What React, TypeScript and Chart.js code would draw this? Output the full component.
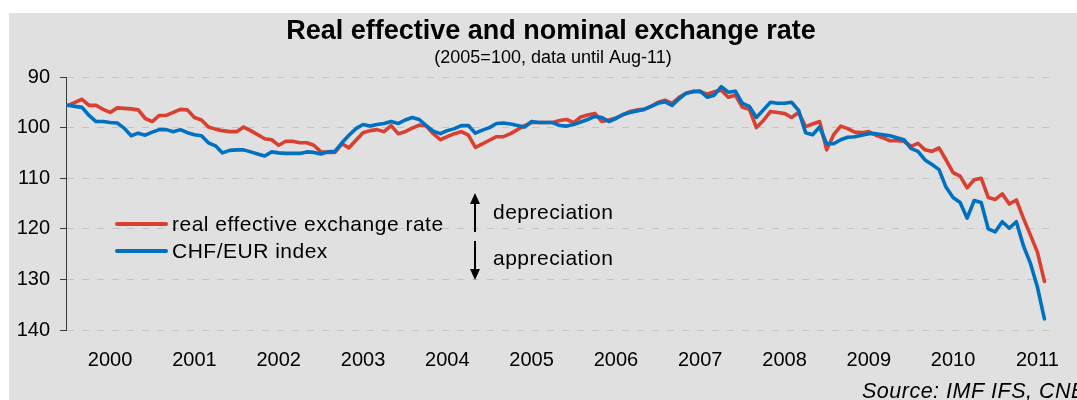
import { useEffect, useRef } from "react";
import { Chart, registerables } from "chart.js";

Chart.register(...registerables);

const FONT = "'Liberation Sans', Arial, Helvetica, sans-serif";

const TITLE = "Real effective and nominal exchange rate";
const SUBTITLE = "(2005=100, data until Aug-11)";
const SOURCE = "Source: IMF IFS, CNB";
const ARROW_UP_TEXT = "depreciation";
const ARROW_DOWN_TEXT = "appreciation";

const seriesNames = ["real effective exchange rate", "CHF/EUR index"];
const seriesColors = ["#d9402f", "#0070c0"];

// x tick labels: one per year, placed at the July observation of each year
const yearLabels = ["2000", "2001", "2002", "2003", "2004", "2005", "2006", "2007", "2008", "2009", "2010", "2011"];
const yearTickMonths = [6, 18, 30, 42, 54, 66, 78, 90, 102, 114, 126, 138];

// monthly observations Jan-2000 .. Aug-2011 (index 2005 = 100)
const realEffective = [
  95.6, 95.0, 94.4, 95.6, 95.6, 96.4, 97.0, 96.1, 96.2, 96.3, 96.5, 98.2,
  98.8, 97.6, 97.6, 97.0, 96.4, 96.5, 98.0, 98.5, 99.9, 100.3, 100.6, 100.8,
  100.8, 99.9, 100.6, 101.4, 102.2, 102.4, 103.5, 102.7, 102.7, 103.0, 103.0, 103.5,
  104.8, 104.9, 104.9, 103.2, 104.0, 102.5, 101.0, 100.6, 100.4, 100.8, 99.6, 101.2,
  100.8, 100.1, 99.5, 99.7, 101.2, 102.4, 101.8, 101.2, 100.8, 101.5, 103.9, 103.2,
  102.5, 101.8, 101.8, 101.2, 100.4, 99.6, 99.0, 99.0, 99.0, 99.0, 98.6, 98.4,
  99.0, 97.9, 97.5, 97.2, 98.8, 98.5, 98.1, 97.5, 96.8, 96.5, 96.4, 95.8,
  95.0, 94.6, 95.2, 94.0, 93.2, 92.8, 92.9, 93.4, 92.9, 92.6, 94.0, 93.6,
  96.0, 96.4, 100.0, 98.6, 96.8, 97.0, 97.2, 98.0, 97.0, 99.8, 99.3, 98.8,
  104.4, 101.4, 99.7, 100.2, 100.9, 101.0, 100.8, 101.5, 102.0, 102.6, 102.6, 102.7,
  103.7, 103.1, 104.4, 104.7, 104.0, 106.4, 108.9, 109.6, 111.9, 110.3, 110.0, 113.8,
  114.2, 113.1, 115.1, 114.3, 117.9, 121.2, 124.6, 130.4,
];

const chfEurIndex = [
  95.6, 95.8, 96.0, 97.6, 98.8, 98.8, 99.0, 99.1, 100.1, 101.6, 101.1, 101.5,
  100.9, 100.4, 100.4, 100.8, 100.4, 101.0, 101.4, 101.6, 103.0, 103.6, 105.0, 104.5,
  104.4, 104.4, 104.8, 105.2, 105.6, 104.8, 105.0, 105.1, 105.1, 105.1, 104.8, 104.9,
  105.2, 104.8, 104.7, 103.0, 101.5, 100.2, 99.4, 99.7, 99.4, 99.2, 98.8, 99.2,
  98.5, 98.0, 98.4, 99.6, 100.7, 101.2, 100.6, 100.2, 99.6, 99.6, 101.1, 100.5,
  100.0, 99.2, 99.1, 99.3, 99.6, 99.9, 98.8, 99.0, 99.0, 99.0, 99.6, 99.7,
  99.4, 98.9, 98.4, 97.8, 98.0, 98.8, 98.2, 97.4, 97.0, 96.7, 96.4, 95.8,
  95.2, 94.9, 95.6, 94.3, 93.2, 92.9, 92.8, 94.0, 93.6, 91.9, 93.0, 92.8,
  95.2, 95.8, 98.0, 96.5, 95.0, 95.2, 95.2, 95.0, 96.6, 101.0, 101.4, 99.9,
  103.2, 103.2, 102.4, 101.9, 101.8, 101.5, 101.2, 101.2, 101.4, 101.6, 102.0, 102.4,
  104.1, 104.7, 106.4, 107.3, 108.3, 111.8, 113.8, 114.8, 117.9, 114.4, 114.8, 120.0,
  120.6, 118.6, 119.9, 118.6, 123.3, 126.8, 131.5, 137.8,
];

const toPoints = (values: number[]) => values.map((v, i) => ({ x: i, y: v }));

const decorPlugin = {
  id: "decor",
  beforeDraw(chart: any) {
    const { ctx, width, height } = chart;
    ctx.save();
    ctx.fillStyle = "#e0e0e0";
    ctx.fillRect(0, 0, width, height);
    ctx.restore();
  },
  afterDraw(chart: any) {
    const ctx = chart.ctx as CanvasRenderingContext2D & { letterSpacing?: string };
    ctx.save();
    ctx.fillStyle = "#000";
    ctx.textAlign = "center";
    ctx.textBaseline = "alphabetic";
    ctx.font = `bold 27px ${FONT}`;
    ctx.fillText(TITLE, 542, 26);
    ctx.font = `18px ${FONT}`;
    ctx.fillText(SUBTITLE, 544, 50);

    // legend
    ctx.textAlign = "left";
    ctx.textBaseline = "middle";
    ctx.font = `21px ${FONT}`;
    ctx.letterSpacing = "0.5px";
    chart.data.datasets.forEach((ds: any, i: number) => {
      const y = 211 + i * 27;
      ctx.strokeStyle = ds.borderColor;
      ctx.lineWidth = 4;
      ctx.lineCap = "round";
      ctx.beginPath();
      ctx.moveTo(108, y);
      ctx.lineTo(157, y);
      ctx.stroke();
      ctx.fillStyle = "#000";
      ctx.fillText(ds.label, 163, y + 1);
    });

    // arrows
    const ax = 466;
    ctx.strokeStyle = "#000";
    ctx.fillStyle = "#000";
    ctx.lineWidth = 2;
    ctx.lineCap = "butt";
    ctx.beginPath();
    ctx.moveTo(ax, 188);
    ctx.lineTo(ax, 219);
    ctx.moveTo(ax, 228);
    ctx.lineTo(ax, 259);
    ctx.stroke();
    ctx.beginPath();
    ctx.moveTo(ax, 180);
    ctx.lineTo(ax - 5, 191);
    ctx.lineTo(ax + 5, 191);
    ctx.closePath();
    ctx.fill();
    ctx.beginPath();
    ctx.moveTo(ax, 267);
    ctx.lineTo(ax - 5, 256);
    ctx.lineTo(ax + 5, 256);
    ctx.closePath();
    ctx.fill();
    ctx.fillText(ARROW_UP_TEXT, 484, 200);
    ctx.fillText(ARROW_DOWN_TEXT, 484, 246);

    // source
    ctx.textBaseline = "alphabetic";
    ctx.font = `italic 21.5px ${FONT}`;
    ctx.fillText(SOURCE, 853, 385);
    ctx.restore();
  },
};

export default function App() {
  const ref = useRef<HTMLCanvasElement>(null);

  useEffect(() => {
    const chart = new Chart(ref.current as HTMLCanvasElement, {
      type: "line",
      data: {
        datasets: [
          {
            label: seriesNames[0],
            data: toPoints(realEffective),
            borderColor: seriesColors[0],
            backgroundColor: seriesColors[0],
            borderWidth: 3.6,
            pointRadius: 0,
            tension: 0,
            borderJoinStyle: "round",
            borderCapStyle: "round",
            order: 1,
          },
          {
            label: seriesNames[1],
            data: toPoints(chfEurIndex),
            borderColor: seriesColors[1],
            backgroundColor: seriesColors[1],
            borderWidth: 3.6,
            pointRadius: 0,
            tension: 0,
            borderJoinStyle: "round",
            borderCapStyle: "round",
            order: 0,
          },
        ],
      },
      options: {
        animation: false,
        responsive: true,
        maintainAspectRatio: false,
        events: [],
        layout: { padding: { top: 64, left: 7, right: 5, bottom: 10 } },
        plugins: {
          legend: { display: false },
          title: { display: false },
          tooltip: { enabled: false },
        },
        scales: {
          x: {
            type: "linear",
            min: -0.28,
            max: 140.68,
            grid: { display: false, drawTicks: false, tickLength: 0 },
            border: { display: false },
            afterBuildTicks: (scale: any) => {
              scale.ticks = yearTickMonths.map((v) => ({ value: v }));
            },
            ticks: {
              autoSkip: false,
              maxRotation: 0,
              padding: 18,
              color: "#000",
              font: { family: FONT, size: 20 },
              callback: (v: any) => {
                const k = yearTickMonths.indexOf(Number(v));
                return k >= 0 ? yearLabels[k] : "";
              },
            },
          },
          y: {
            reverse: true,
            min: 90,
            max: 140,
            afterFit: (scale: any) => {
              scale.width = 50;
            },
            grid: {
              color: "#c4c4c4",
              lineWidth: 1,
              drawTicks: true,
              tickLength: 6,
              tickColor: "#3a3a3a",
              tickWidth: 1,
              tickBorderDash: [],
            },
            border: { display: true, color: "#3a3a3a", width: 1, dash: [7, 8] },
            ticks: {
              stepSize: 10,
              padding: 10,
              color: "#000",
              font: { family: FONT, size: 20 },
            },
          },
        },
      },
      plugins: [decorPlugin],
    } as any);
    return () => chart.destroy();
  }, []);

  return (
    <div style={{ position: "fixed", left: 9, top: 13, width: 1068, height: 387 }}>
      <canvas ref={ref} />
    </div>
  );
}
